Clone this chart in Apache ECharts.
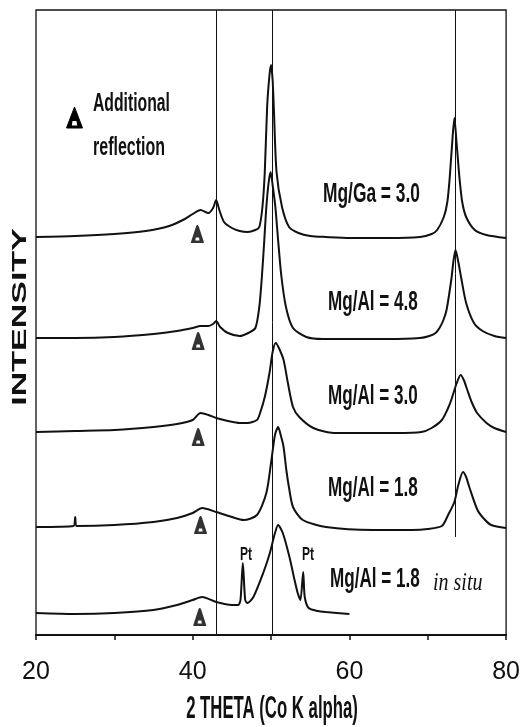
<!DOCTYPE html>
<html>
<head>
<meta charset="utf-8">
<script src="https://cdn.jsdelivr.net/npm/echarts@6/dist/echarts.min.js"></script>
<style>html,body{margin:0;padding:0;background:#fff;}#c{width:523px;height:727px;}</style>
</head>
<body>
<div id="c"></div>
<script>
// ---- data (2-theta, intensity above each pattern's baseline) ----
const thetaGa = [20, 25, 30, 34, 37, 39, 40, 41, 42, 42.6, 43, 43.4, 44, 45, 46, 47, 48, 48.5, 48.9, 49.2, 49.5, 49.8, 50.0, 50.2, 50.35, 50.7, 51.4, 52.3, 53.5, 55, 57, 60, 65, 69, 70.5, 71.2, 72.05, 72.5, 72.8, 73.1, 73.4, 73.7, 74.05, 74.4, 74.9, 76.0, 77.5, 80];
const intGa   = [3, 4, 6, 9, 14, 21, 26, 30, 27, 32, 40, 30, 18, 12, 9, 8, 10, 13, 33, 68, 133, 165, 175, 160, 133, 68, 33, 13, 7, 4, 3, 2, 2, 3, 6, 10, 23, 38, 62, 95, 122, 95, 62, 38, 23, 10, 5, 2];

const theta48 = [20, 25, 30, 35, 38, 40, 41, 42, 42.6, 43, 43.5, 44.5, 46, 47.1, 48.0, 48.5, 48.8, 49.1, 49.4, 49.7, 49.95, 50.2, 50.55, 50.9, 51.3, 51.9, 52.8, 54.5, 56.6, 60, 65, 69, 70.2, 71.0, 71.5, 72.0, 72.4, 73.0, 73.3, 73.55, 73.9, 74.25, 74.9, 75.9, 77, 78.5, 80];
const int48   = [2, 2, 3, 6, 9, 12, 14, 14, 16, 19, 13, 7, 4, 7, 12, 33, 60, 95, 133, 158, 168, 155, 133, 100, 65, 33, 12, 3, 1, 1, 1, 2, 4, 7, 12, 20, 30, 60, 80, 90, 78, 63, 37, 17, 9, 4, 2];

const theta30 = [20, 25, 30, 35, 38, 40, 41, 42, 43, 44.5, 46, 47, 48.2, 48.6, 49.2, 49.8, 50.2, 50.6, 51.0, 51.6, 52.15, 52.8, 53.6, 55.4, 58, 62, 66, 69.2, 70.5, 71.8, 72.6, 73.0, 73.7, 74.2, 74.6, 75.05, 75.6, 76.3, 77.5, 78.5, 80];
const int30   = [3, 4, 5, 8, 11, 15, 22, 20, 17, 14, 12, 12, 15, 22, 38, 62, 83, 92, 87, 75, 52, 28, 18, 7, 2, 2, 2, 3, 7, 15, 27, 35, 52, 60, 55, 45, 33, 22, 12, 7, 3];

const theta18 = [20, 24.8, 25.0, 25.2, 30, 35, 38, 40, 41.2, 43, 45, 46.5, 48.2, 49.4, 50.05, 50.5, 50.9, 51.3, 51.6, 51.95, 52.3, 52.8, 54.05, 57, 63, 68, 70, 71.8, 72.6, 73.4, 73.9, 74.5, 74.9, 75.3, 76.35, 77.2, 78.1, 80];
const int18   = [3, 4, 13, 4, 5, 8, 12, 17, 22, 18, 13, 10, 15, 37, 70, 95, 103, 93, 83, 60, 42, 23, 10, 3, 0, 0, 1, 4, 15, 28, 45, 58, 53, 43, 20, 11, 5, 2];

const thetaIS = [20, 25, 30, 35, 38, 40, 41.2, 43, 45, 45.8, 46.1, 46.4, 46.7, 47.0, 47.75, 49.0, 49.85, 50.5, 50.9, 51.5, 52.35, 53.0, 53.4, 53.75, 54.1, 54.3, 54.8, 56, 57, 60];
const intIS   = [2, 1, 2, 5, 10, 15, 18, 13, 10, 10, 15, 52, 15, 12, 18, 42, 62, 82, 90, 82, 58, 35, 22, 15, 43, 18, 7, 4, 3, 1];

const seriesNames = ['Mg/Ga = 3.0', 'Mg/Al = 4.8', 'Mg/Al = 3.0', 'Mg/Al = 1.8', 'Mg/Al = 1.8 in situ'];
const offsets = [395, 295, 200, 105, 20];          // vertical stacking offsets
const triTheta = [40.6, 40.7, 40.7, 41.0, 40.9];   // "additional reflection" markers
const triY = [401, 294, 198, 110, 18];
const refLines = [43, 50.2];                        // full-height reference lines
const refLine3 = {theta: 73.5, from: 98};           // partial reference line
const xTickLabels = [20, 40, 60, 80];

// ---- build ----
const thetas = [thetaGa, theta48, theta30, theta18, thetaIS];
const ints = [intGa, int48, int30, int18, intIS];
const INK = '#111';
const SANS = '"Liberation Sans", Arial, sans-serif';
const triPath = 'path://M6,0 C6.6,0 7,0.6 7.3,1.5 L12,17 C12.2,17.7 11.9,18 11.3,18 L0.7,18 C0.1,18 -0.2,17.7 0,17 L4.7,1.5 C5,0.6 5.4,0 6,0 Z M4.6,12.5 L4.0,15.6 L8.0,15.6 L7.4,12.5 Z';

const series = thetas.map((th, i) => ({
  name: seriesNames[i],
  type: 'line',
  data: th.map((t, k) => [t, ints[i][k] + offsets[i]]),
  showSymbol: false,
  smooth: 0.25,
  lineStyle: {color: INK, width: 2},
  z: 3,
  markLine: i === 0 ? {
    silent: true, symbol: 'none', label: {show: false}, animation: false,
    lineStyle: {color: INK, width: 1, type: 'solid'},
    data: [
      ...refLines.map(v => ({xAxis: v})),
      [{coord: [refLine3.theta, refLine3.from]}, {coord: [refLine3.theta, 625]}]
    ]
  } : undefined
}));
series.push({
  name: 'Additional reflection',
  type: 'scatter',
  symbol: triPath,
  symbolSize: [13, 18],
  itemStyle: {color: '#000'},
  data: triTheta.map((t, i) => [t, triY[i]]),
  z: 4
});

function txt(text, x, y, size, sx, align, font, extra) {
  return Object.assign({
    type: 'text', x: x, y: y, scaleX: sx,
    style: {text: text, font: font || ('bold ' + size + 'px ' + SANS), fill: INK,
            textAlign: align || 'left', textVerticalAlign: 'middle'}
  }, extra || {});
}

const graphic = [
  txt('Additional', 93, 104, 25, 0.63),
  txt('reflection', 93, 148, 25, 0.64),
  {type: 'polygon', shape: {points: [[74.5, 107], [82.5, 128], [66.5, 128]]}, style: {fill: '#000', stroke: '#000', lineWidth: 1, lineJoin: 'round'}},
  {type: 'polygon', shape: {points: [[72.5, 121], [71.8, 125.5], [77.2, 125.5], [76.5, 121]]}, style: {fill: '#fff'}},
  txt('Mg/Ga = 3.0', 323, 194, 28, 0.62),
  txt('Mg/Al = 4.8', 328, 302, 28, 0.61),
  txt('Mg/Al = 3.0', 328, 396, 28, 0.61),
  txt('Mg/Al = 1.8', 328, 488, 28, 0.61),
  txt('Mg/Al = 1.8', 330, 579, 28, 0.61),
  txt('in situ', 433, 583, 25, 0.8, 'left', 'italic 25px "Liberation Serif", "Times New Roman", serif'),
  txt('Pt', 246, 555, 18, 0.67, 'center'),
  txt('Pt', 308, 555, 18, 0.67, 'center'),
  txt('2 THETA (Co K alpha)', 272, 709, 31, 0.54, 'center'),
  txt('INTENSITY', 20, 317, 20, 1.7, 'center', null, {rotation: Math.PI / 2})
];

const chart = echarts.init(document.getElementById('c'), null, {renderer: 'canvas'});
chart.setOption({
  animation: false,
  backgroundColor: '#fff',
  grid: {left: 36, right: 13, top: 10, bottom: 92, show: true, borderColor: INK, borderWidth: 1.3},
  xAxis: {
    type: 'value', min: 20, max: 80, interval: 10,
    axisLine: {lineStyle: {color: INK, width: 2}},
    axisTick: {length: 5, lineStyle: {color: INK, width: 1.5}},
    splitLine: {show: false},
    axisLabel: {color: INK, fontSize: 25, fontFamily: '"Liberation Sans Narrow", "Liberation Sans", Arial, sans-serif', margin: 25,
      formatter: v => xTickLabels.includes(v) ? String(v) : ''}
  },
  yAxis: {type: 'value', min: 0, max: 625, show: false},
  graphic: graphic,
  series: series
});
</script>
</body>
</html>
